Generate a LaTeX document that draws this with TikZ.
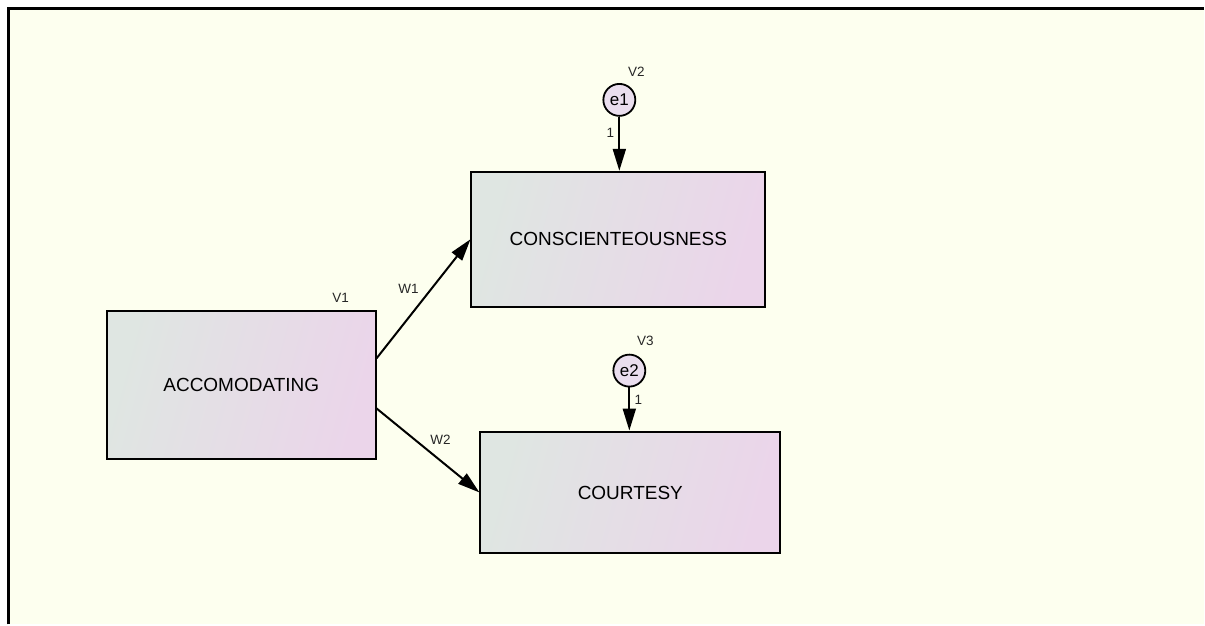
\documentclass[tikz,border=0pt]{standalone}
\usepackage{fontspec}
\setmainfont{Liberation Sans}
\usetikzlibrary{arrows.meta}
\definecolor{canvas}{RGB}{253,255,239}
\definecolor{boxleft}{RGB}{223,230,226}
\definecolor{boxright}{RGB}{235,213,234}
\definecolor{errfill}{RGB}{234,222,238}
\begin{document}
\begin{tikzpicture}[x=1pt,y=-1pt,
    var/.style={draw,line width=2pt,left color=boxleft,right color=boxright,shading angle=75,
      font=\fontsize{19}{21}\selectfont,text=black},
    err/.style={circle,draw,line width=1.8pt,fill=errfill,minimum size=32pt,
      inner sep=0pt,font=\fontsize{17}{19}\selectfont,text=black},
    lbl/.style={font=\fontsize{13.5}{15}\selectfont,text=black!85,inner sep=0pt},
    path/.style={line width=2pt,-{Triangle[length=22pt,width=13pt]}}]

      % canvas and frame
      \fill[white] (0,0) rectangle (1205,625);
      \fill[canvas] (8.5,8.5) rectangle (1205,625);
      \draw[line width=2.6pt] (8.5,625) -- (8.5,8.5) -- (1205,8.5);

      \node[var,minimum width=269pt,minimum height=148pt] (acc)   at (241.5,385)  {ACCOMODATING};
      \node[var,minimum width=294pt,minimum height=135pt] (consc) at (619,239.5)  {CONSCIENTEOUSNESS};
      \node[var,minimum width=300pt,minimum height=122pt] (court) at (631,493)    {COURTESY};

      \node[err] (e1) at (620,100) {e1};
      \node[err] (e2) at (630,371) {e2};

      \node[lbl] (v1) at (341,298) {V1};
      \node[lbl] (v2) at (637,72)  {V2};
      \node[lbl] (v3) at (646,341) {V3};

      \draw[path] (acc.11)    -- (consc.west);
      \draw[path] (acc.-10.5) -- (court.west);
      \draw[path] (e1) -- (e1 |- consc.north);
      \draw[path] (e2) -- (e2 |- court.north);

      \node[lbl] (w1) at (409,289) {W1};
      \node[lbl] (w2) at (441,440) {W2};
      \node[lbl] (f1) at (611,133) {1};
      \node[lbl] (f2) at (639,400) {1};

    \end{tikzpicture}
\end{document}
